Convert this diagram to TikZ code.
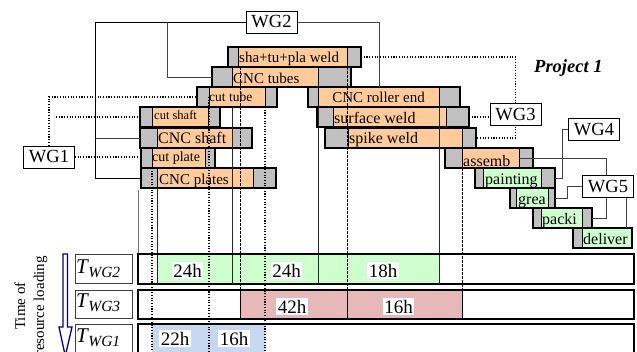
\documentclass[tikz,border=0pt]{standalone}
\usepackage{fontspec}
\setmainfont{Liberation Serif}
\usetikzlibrary{fit}
\pgfdeclarelayer{top}
\pgfsetlayers{main,top}

\definecolor{taskgray}{HTML}{C0C0C0}
\definecolor{taskorange}{HTML}{FFCC99}
\definecolor{taskgreen}{HTML}{CCFFCC}
\definecolor{loadred}{HTML}{E6B9B8}
\definecolor{loadblue}{HTML}{C6D9F1}
\definecolor{arrowblue}{HTML}{00008B}
\definecolor{linkgray}{HTML}{404040}

% one Gantt task: name, top, frame left, core left, core right, frame right, core colour
\newcommand{\gtask}[7]{%
  \path (#3,#2) coordinate (#1-a) (#6,#2+20) coordinate (#1-b)
        (#4,#2) coordinate (#1-c) (#5,#2+20) coordinate (#1-d);
  \node[gframe, fit=(#1-a)(#1-b)] (#1) {};
  \node[gcore, fill=#7, fit=(#1-c)(#1-d)] (#1-core) {};
  \draw[line width=1.4pt] (#1.south west) rectangle (#1.north east);
}

\begin{document}
\begin{tikzpicture}[x=1pt, y=-1pt,
  gframe/.style={fill=taskgray, inner sep=0pt, outer sep=0pt},
  gcore/.style={draw=black, line width=0.8pt, inner sep=0pt, outer sep=0pt},
  glabel/.style={anchor=base west, inner sep=0pt, font=\fontsize{15}{17}\selectfont},
  biglabel/.style={glabel, font=\fontsize{16}{17}\selectfont},
  wgbox/.style={draw=black, line width=0.8pt, fill=white, inner sep=0pt,
    minimum width=51pt, minimum height=22pt, font=\fontsize{18.5}{20}\selectfont},
  link/.style={draw=linkgray, line width=0.8pt},
  dotlink/.style={draw=black, line width=1.1pt, dash pattern=on 1.1pt off 1.6pt},
  guide/.style={draw=black!85, line width=0.7pt},
  dotguide/.style={draw=black, line width=1.1pt, dash pattern=on 1.1pt off 1.6pt},
  dashguide/.style={draw=black, line width=0.7pt, dash pattern=on 2.5pt off 1.5pt},
  loadbar/.style={draw=black, line width=1.4pt, anchor=north west, inner sep=0pt,
    minimum width=495pt},
  rowbox/.style={draw=black!75, line width=0.8pt, anchor=north west, inner sep=0pt,
    minimum width=57pt},
  rowlabel/.style={anchor=base west, inner sep=0pt},
  hours/.style={fill=white, inner sep=1.5pt, anchor=base, font=\fontsize{19}{20}\selectfont}
]
\useasboundingbox (0,0) rectangle (637,351);
\clip (0,0) rectangle (637,351);

% work group boxes (kept on the top layer)
\begin{pgfonlayer}{top}
\node[wgbox] (wgtwo)   at (271.5,22)  {WG2};
\node[wgbox] (wgone)   at (49,157)    {WG1};
\node[wgbox] (wgthree) at (515.5,114.5) {WG3};
\node[wgbox] (wgfour)  at (594,129.5) {WG4};
\node[wgbox] (wgfive)  at (608,186.5) {WG5};
\end{pgfonlayer}

\node[anchor=base west, inner sep=0pt, font=\fontsize{18.5}{20}\selectfont\bfseries\itshape]
  (proj) at (534,72) {Project 1};

% tasks
\gtask{shatupla}{47}{228}{238}{347}{361}{taskorange}
\gtask{cnctubes}{67}{212}{232}{318}{351}{taskorange}
\gtask{cuttube}{87}{197}{209}{265}{277}{taskorange}
\gtask{cncroller}{87}{308}{318}{439}{460}{taskorange}
\gtask{cutshaft}{107}{140}{152}{208}{220}{taskorange}
\gtask{surfaceweld}{107}{317}{333}{446}{469}{taskorange}
\gtask{cncshaft}{128}{140}{157}{232}{252}{taskorange}
\gtask{spikeweld}{128}{325}{348}{462}{476}{taskorange}
\gtask{cutplate}{148}{141}{152}{205}{215}{taskorange}
\gtask{assemb}{148}{445}{462}{519}{533}{taskorange}
\gtask{cncplates}{168}{141}{157}{253}{276}{taskorange}
\gtask{painting}{168}{475}{483}{541}{555}{taskgreen}
\gtask{grea}{188}{510}{516}{548}{555}{taskgreen}
\gtask{packi}{208}{533}{541}{582}{592}{taskgreen}
\gtask{deliver}{228}{573}{582}{632}{632}{taskgreen}

\node[glabel] (shatupla-t) at (239,62) {sha+tu+pla weld};
\node[glabel] (cnctubes-t) at (233,83) {CNC tubes};
\node[glabel, font=\fontsize{13.5}{15}\selectfont] (cuttube-t) at (209,101) {cut tube};
\node[glabel, anchor=base] (cncroller-t) at (378.5,102) {CNC roller end};
\node[glabel, font=\fontsize{12.5}{14}\selectfont] (cutshaft-t) at (154,119.5) {cut shaft};
\node[biglabel] (surfaceweld-t) at (334,123) {surface weld};
\node[biglabel] (cncshaft-t) at (158,143) {CNC shaft};
\node[biglabel] (spikeweld-t) at (349,143) {spike weld};
\node[glabel, font=\fontsize{14}{15}\selectfont] (cutplate-t) at (152,161.5) {cut plate};
\node[biglabel] (assemb-t) at (463,166) {assemb};
\node[glabel] (cncplates-t) at (159,184) {CNC plates};
\node[biglabel] (painting-t) at (485,184) {painting};
\node[biglabel] (grea-t) at (518,204.5) {grea};
\node[biglabel] (packi-t) at (542,224) {packi};
\node[biglabel] (deliver-t) at (583,244) {deliver};

% work group links
\draw[link, draw=black, line width=1pt] (wgtwo.west) -- (95,22) |- (cncplates.west);
\draw[link] (95,138) -- (cncshaft.west);
\draw[link] (167,22) |- (cnctubes.west);
\draw[link] (wgtwo.east) -| ([xshift=-5pt]cncroller.north);
\draw[dotlink] (wgone.north) |- (cuttube.west);
\draw[dotlink] (56,117) -- (cutshaft.west);
\draw[dotlink] (wgone.east) -- (wgone.east -| cutplate.west);
\draw[dotlink] (shatupla.east) -| (wgthree.center) |- (spikeweld.east);
\draw[dotlink] (surfaceweld.east) -- (surfaceweld.east -| wgthree.west);
\draw[link] (wgfour.west) -- ++(-6,0) |- (painting.east);
\draw[link] (assemb-core.east) -- (606,158) |- (packi.east);
\draw[link] (wgfive.west) -- ++(-15,0) |- (grea.east);
\draw[link] ([xshift=18pt]wgfive.south) -- ([xshift=18pt]wgfive.south |- deliver.north);

% resource loading rows
\node[loadbar, minimum height=29pt] (bartwo) at (138,254) {};
\node[loadbar, minimum height=28pt] (barthree) at (138,290) {};
\node[loadbar, minimum height=40pt] (barone) at (138,324) {};

\fill[taskgreen] (157,254) rectangle (439,283);
\fill[loadred] (240,290) rectangle (462,318);
\draw[line width=0.6pt] (240,290) rectangle (462,318);
\draw[line width=0.6pt] (347,290) -- (347,318);
\fill[loadblue] (152,324) rectangle (265,360);

% time marks running down to the loading rows
\draw[guide, draw=black!55] (138,190) -- (138,254);
\draw[guide] (cncplates-core.south west) -- (cncplates-core.south west |- bartwo.south);
\draw[guide] (cnctubes-core.west |- cuttube.south) -- (cnctubes-core.west |- bartwo.south);
\draw[guide] (cncroller-core.south west) -- (cncroller-core.south west |- bartwo.south);
\draw[guide] (cncroller-core.south east) -- (cncroller-core.south east |- bartwo.south);
\draw[dotguide] (cutplate-core.south west) -- (cutplate-core.south west |- barone.south);
\draw[dotguide] (cuttube-core.west) -- (cuttube-core.west |- barone.south);
\draw[dotguide] (cuttube-core.south east) -- (cuttube-core.south east |- barone.south);
\draw[dashguide] (240,67) -- (240,290);
\draw[dashguide] (shatupla-core.south east) -- (shatupla-core.south east |- barthree.north);
\draw[dashguide] (assemb-core.south west) -- (assemb-core.south west |- barthree.north);

\draw[line width=1.4pt] (bartwo.south west) rectangle (bartwo.north east);
\draw[line width=1.4pt] (barthree.south west) rectangle (barthree.north east);
\draw[line width=1.4pt] (barone.south west) rectangle (barone.north east);

\node[hours] (htwoa) at (187.5,277) {24h};
\node[hours] (htwob) at (286.5,277) {24h};
\node[hours] (htwoc) at (383,277) {18h};
\node[hours] (hthreea) at (292,313) {42h};
\node[hours] (hthreeb) at (398.5,313) {16h};
\node[hours] (honea) at (175,345) {22h};
\node[hours] (honeb) at (234,345) {16h};

% row labels
\node[rowbox, minimum height=29pt] (rtwo) at (75,254) {};
\node[rowbox, minimum height=28pt] (rthree) at (75,290) {};
\node[rowbox, minimum height=40pt] (rone) at (75,324) {};
\node[rowlabel] (ttwo) at (76,273)
  {\fontsize{21}{21}\selectfont\itshape T\kern0.5pt\raisebox{-4pt}{\fontsize{15.5}{16}\selectfont WG2}};
\node[rowlabel] (tthree) at (76,307)
  {\fontsize{21}{21}\selectfont\itshape T\kern0.5pt\raisebox{-4pt}{\fontsize{15.5}{16}\selectfont WG3}};
\node[rowlabel] (tone) at (76,342)
  {\fontsize{21}{21}\selectfont\itshape T\kern0.5pt\raisebox{-4pt}{\fontsize{15.5}{16}\selectfont WG1}};

% loading-order arrow and its caption
\draw[arrowblue, line width=1.3pt, fill=white, line join=miter]
  (63,254) -- (67.5,254) -- (67.5,327) -- (72,327) -- (65.3,356) -- (59,327) -- (63,327) -- cycle;
\node[rotate=90, align=center, font=\fontsize{15}{19}\selectfont] (tload) at (31,306)
  {Time of\\resource loading};
\end{tikzpicture}
\end{document}
